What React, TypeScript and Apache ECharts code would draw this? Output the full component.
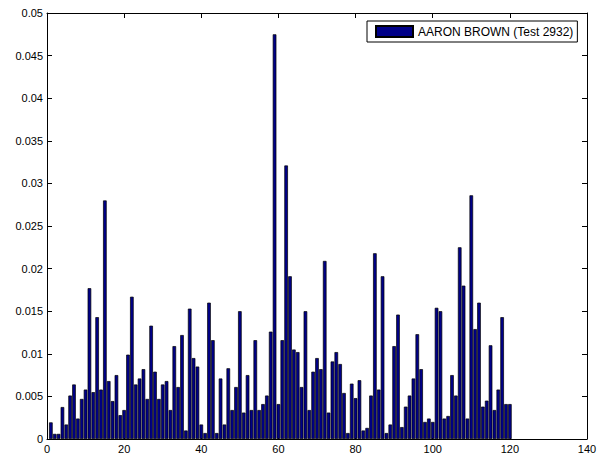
import React, { useEffect, useRef } from "react";
import * as echarts from "echarts";

const seriesName = "AARON BROWN (Test 2932)";

const barValues: number[] = [
  0.00195, 0.0006, 0.0006, 0.00375, 0.0017, 0.0051, 0.0064, 0.0024, 0.0047, 0.0058,
  0.0177, 0.0055, 0.0143, 0.0058, 0.028, 0.0068, 0.00445, 0.0075, 0.0028, 0.0034,
  0.0099, 0.0167, 0.0064, 0.0071, 0.0082, 0.0047, 0.0133, 0.0079, 0.0047, 0.0064,
  0.0068, 0.0034, 0.0109, 0.0061, 0.0122, 0.001, 0.0153, 0.0095, 0.0085, 0.0017,
  0.0007, 0.016, 0.0116, 0.0007, 0.0071, 0.0017, 0.0083, 0.0034, 0.0061, 0.015,
  0.0031, 0.0075, 0.0034, 0.0116, 0.0034, 0.0041, 0.0051, 0.0126, 0.0475, 0.0041,
  0.0116, 0.0321, 0.0191, 0.0105, 0.0102, 0.0061, 0.015, 0.0034, 0.0079, 0.0095,
  0.0082, 0.0209, 0.0031, 0.0091, 0.0102, 0.0088, 0.0054, 0.0007, 0.0065, 0.0048,
  0.0069, 0.001, 0.0013, 0.0051, 0.0218, 0.0058, 0.0191, 0.0007, 0.0017, 0.0109,
  0.0146, 0.0014, 0.0038, 0.0051, 0.0071, 0.0123, 0.0082, 0.002, 0.0024, 0.002,
  0.0154, 0.015, 0.0024, 0.0027, 0.0075, 0.0051, 0.0225, 0.018, 0.0024, 0.0286,
  0.0129, 0.016, 0.0038, 0.0045, 0.011, 0.0034, 0.0058, 0.0143, 0.0041, 0.0041,
];

const xMin = 0;
const xMax = 140;
const xInterval = 20;
const yMin = 0;
const yMax = 0.05;
const yInterval = 0.005;

const FONT = "'Liberation Sans', Arial, Helvetica, sans-serif";

export default function App() {
  const ref = useRef<HTMLDivElement>(null);

  useEffect(() => {
    if (!ref.current) return;
    const chart = echarts.init(ref.current, undefined, { renderer: "svg" });
    const data = barValues.map((v, i) => [i + 1, v]);
    const axisLine = { show: true, onZero: false, lineStyle: { color: "#000", width: 1 } };
    const tick = { show: true, inside: true, length: 5, lineStyle: { color: "#000", width: 1 } };
    const fmtY = (v: number) => (v === 0 ? "0" : String(+v.toFixed(3)));
    chart.setOption({
      animation: false,
      backgroundColor: "#fff",
      textStyle: { fontFamily: FONT },
      grid: {
        left: 47,
        right: 20,
        top: 13,
        bottom: 15,
        containLabel: false,
        outerBoundsMode: "none",
      },
      legend: {
        left: 367,
        top: 21,
        padding: [4, 4, 4, 8],
        borderColor: "#000",
        borderWidth: 1,
        borderRadius: 0,
        backgroundColor: "#fff",
        itemWidth: 37,
        itemHeight: 11,
        icon: "rect",
        textStyle: { fontSize: 12, color: "#000", fontFamily: FONT },
        data: [seriesName],
      },
      xAxis: [
        {
          type: "value",
          min: xMin,
          max: xMax,
          interval: xInterval,
          position: "bottom",
          axisLine,
          axisTick: tick,
          splitLine: { show: false },
          axisLabel: { color: "#000", fontSize: 11, margin: 4, fontFamily: FONT },
        },
        {
          type: "value",
          min: xMin,
          max: xMax,
          interval: xInterval,
          position: "top",
          axisLine,
          axisTick: tick,
          splitLine: { show: false },
          axisLabel: { show: false },
        },
      ],
      yAxis: [
        {
          type: "value",
          min: yMin,
          max: yMax,
          interval: yInterval,
          position: "left",
          axisLine,
          axisTick: tick,
          splitLine: { show: false },
          axisLabel: { color: "#000", fontSize: 11, margin: 4, formatter: fmtY, fontFamily: FONT },
        },
        {
          type: "value",
          min: yMin,
          max: yMax,
          interval: yInterval,
          position: "right",
          axisLine,
          axisTick: tick,
          splitLine: { show: false },
          axisLabel: { show: false },
        },
      ],
      series: [
        {
          name: seriesName,
          type: "bar",
          xAxisIndex: 0,
          yAxisIndex: 0,
          barWidth: 3.6,
          data,
          itemStyle: { color: "#000088", borderColor: "#000", borderWidth: 0.7 },
        },
      ],
    });
    return () => chart.dispose();
  }, []);

  return (
    <div
      ref={ref}
      style={{ position: "fixed", left: 0, top: 0, width: 607, height: 454, background: "#fff" }}
    />
  );
}
